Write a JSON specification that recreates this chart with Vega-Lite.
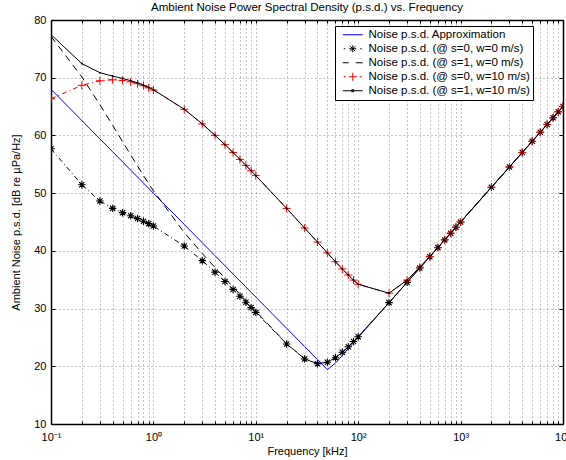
{
  "$schema": "https://vega.github.io/schema/vega-lite/v6.json",
  "width": 512,
  "height": 404,
  "autosize": {"type": "none"},
  "padding": {"left": 51, "top": 20, "right": 3, "bottom": 36},
  "background": "white",
  "title": {"text": "Ambient Noise Power Spectral Density (p.s.d.) vs. Frequency", "fontSize": 11.5, "fontWeight": "normal", "font": "Liberation Sans", "color": "#000", "anchor": "middle", "offset": 1},
  "config": {
    "font": "Liberation Sans",
    "view": {"stroke": "#000", "strokeWidth": 1},
    "axis": {"labelFont": "Liberation Sans", "titleFont": "Liberation Sans", "labelFontSize": 11, "titleFontSize": 11, "titleFontWeight": "normal", "labelColor": "#000", "titleColor": "#000", "tickColor": "#000", "domainColor": "#000", "domainWidth": 1.5, "gridColor": "#000", "gridOpacity": 0.45, "gridDash": [1, 3], "gridWidth": 1}
  },
  "datasets": {
    "approx": [
      {"f":0.1,"db":68},{"f":0.2,"db":62.58},{"f":0.3,"db":59.41},{"f":0.4,"db":57.16},{"f":0.5,"db":55.42},{"f":0.6,"db":53.99},{"f":0.7,"db":52.79},{"f":0.8,"db":51.74},{"f":0.9,"db":50.82},
      {"f":1,"db":50},{"f":2,"db":44.58},{"f":3,"db":41.41},{"f":4,"db":39.16},{"f":5,"db":37.42},{"f":6,"db":35.99},{"f":7,"db":34.79},{"f":8,"db":33.74},{"f":9,"db":32.82},
      {"f":10,"db":32},{"f":20,"db":26.58},{"f":30,"db":23.41},{"f":40,"db":21.16},{"f":50,"db":19.42},{"f":60,"db":20.56},{"f":70,"db":21.9},{"f":80,"db":23.06},{"f":90,"db":24.09},
      {"f":100,"db":25},{"f":200,"db":31.02},{"f":300,"db":34.54},{"f":400,"db":37.04},{"f":500,"db":38.98},{"f":600,"db":40.56},{"f":700,"db":41.9},{"f":800,"db":43.06},{"f":900,"db":44.09},
      {"f":1000,"db":45},{"f":2000,"db":51.02},{"f":3000,"db":54.54},{"f":4000,"db":57.04},{"f":5000,"db":58.98},{"f":6000,"db":60.56},{"f":7000,"db":61.9},{"f":8000,"db":63.06},{"f":9000,"db":64.09},{"f":10000,"db":65}
    ],
    "s0w0": [
      {"f":0.1,"db":57.68},{"f":0.2,"db":51.46},{"f":0.3,"db":48.64},{"f":0.4,"db":47.36},{"f":0.5,"db":46.62},{"f":0.6,"db":46.07},{"f":0.7,"db":45.59},{"f":0.8,"db":45.14},{"f":0.9,"db":44.71},
      {"f":1,"db":44.3},{"f":2,"db":40.85},{"f":3,"db":38.3},{"f":4,"db":36.31},{"f":5,"db":34.69},{"f":6,"db":33.32},{"f":7,"db":32.14},{"f":8,"db":31.1},{"f":9,"db":30.17},
      {"f":10,"db":29.34},{"f":20,"db":23.87},{"f":30,"db":21.27},{"f":40,"db":20.44},{"f":50,"db":20.71},{"f":60,"db":21.49},{"f":70,"db":22.43},{"f":80,"db":23.38},{"f":90,"db":24.29},
      {"f":100,"db":25.13},{"f":200,"db":31.03},{"f":300,"db":34.54},{"f":400,"db":37.04},{"f":500,"db":38.98},{"f":600,"db":40.56},{"f":700,"db":41.9},{"f":800,"db":43.06},{"f":900,"db":44.09},
      {"f":1000,"db":45},{"f":2000,"db":51.02},{"f":3000,"db":54.54},{"f":4000,"db":57.04},{"f":5000,"db":58.98},{"f":6000,"db":60.56},{"f":7000,"db":61.9},{"f":8000,"db":63.06},{"f":9000,"db":64.09},{"f":10000,"db":65}
    ],
    "s1w0": [
      {"f":0.1,"db":77.17},{"f":0.2,"db":70.14},{"f":0.3,"db":65.34},{"f":0.4,"db":61.76},{"f":0.5,"db":58.93},{"f":0.6,"db":56.63},{"f":0.7,"db":54.7},{"f":0.8,"db":53.06},{"f":0.9,"db":51.64},
      {"f":1,"db":50.41},{"f":2,"db":43.17},{"f":3,"db":39.54},{"f":4,"db":37.1},{"f":5,"db":35.25},{"f":6,"db":33.74},{"f":7,"db":32.47},{"f":8,"db":31.37},{"f":9,"db":30.4},
      {"f":10,"db":29.53},{"f":20,"db":23.93},{"f":30,"db":21.3},{"f":40,"db":20.45},{"f":50,"db":20.72},{"f":60,"db":21.49},{"f":70,"db":22.43},{"f":80,"db":23.38},{"f":90,"db":24.29},
      {"f":100,"db":25.13},{"f":200,"db":31.03},{"f":300,"db":34.54},{"f":400,"db":37.04},{"f":500,"db":38.98},{"f":600,"db":40.56},{"f":700,"db":41.9},{"f":800,"db":43.06},{"f":900,"db":44.09},
      {"f":1000,"db":45},{"f":2000,"db":51.02},{"f":3000,"db":54.54},{"f":4000,"db":57.04},{"f":5000,"db":58.98},{"f":6000,"db":60.56},{"f":7000,"db":61.9},{"f":8000,"db":63.06},{"f":9000,"db":64.09},{"f":10000,"db":65}
    ],
    "s0w10": [
      {"f":0.1,"db":66.37},{"f":0.2,"db":68.68},{"f":0.3,"db":69.47},{"f":0.4,"db":69.64},{"f":0.5,"db":69.53},{"f":0.6,"db":69.28},{"f":0.7,"db":68.96},{"f":0.8,"db":68.61},{"f":0.9,"db":68.25},
      {"f":1,"db":67.87},{"f":2,"db":64.53},{"f":3,"db":62},{"f":4,"db":60.02},{"f":5,"db":58.4},{"f":6,"db":57.03},{"f":7,"db":55.85},{"f":8,"db":54.81},{"f":9,"db":53.88},
      {"f":10,"db":53.04},{"f":20,"db":47.35},{"f":30,"db":43.95},{"f":40,"db":41.52},{"f":50,"db":39.64},{"f":60,"db":38.12},{"f":70,"db":36.86},{"f":80,"db":35.81},{"f":90,"db":34.93},
      {"f":100,"db":34.21},{"f":200,"db":32.67},{"f":300,"db":34.92},{"f":400,"db":37.17},{"f":500,"db":39.03},{"f":600,"db":40.59},{"f":700,"db":41.92},{"f":800,"db":43.07},{"f":900,"db":44.09},
      {"f":1000,"db":45},{"f":2000,"db":51.02},{"f":3000,"db":54.54},{"f":4000,"db":57.04},{"f":5000,"db":58.98},{"f":6000,"db":60.56},{"f":7000,"db":61.9},{"f":8000,"db":63.06},{"f":9000,"db":64.09},{"f":10000,"db":65}
    ],
    "s1w10": [
      {"f":0.1,"db":77.47},{"f":0.2,"db":72.45},{"f":0.3,"db":70.87},{"f":0.4,"db":70.28},{"f":0.5,"db":69.87},{"f":0.6,"db":69.49},{"f":0.7,"db":69.11},{"f":0.8,"db":68.71},{"f":0.9,"db":68.32},
      {"f":1,"db":67.93},{"f":2,"db":64.54},{"f":3,"db":62.01},{"f":4,"db":60.02},{"f":5,"db":58.4},{"f":6,"db":57.04},{"f":7,"db":55.85},{"f":8,"db":54.81},{"f":9,"db":53.88},
      {"f":10,"db":53.04},{"f":20,"db":47.35},{"f":30,"db":43.95},{"f":40,"db":41.52},{"f":50,"db":39.64},{"f":60,"db":38.12},{"f":70,"db":36.86},{"f":80,"db":35.81},{"f":90,"db":34.93},
      {"f":100,"db":34.21},{"f":200,"db":32.67},{"f":300,"db":34.92},{"f":400,"db":37.17},{"f":500,"db":39.03},{"f":600,"db":40.59},{"f":700,"db":41.92},{"f":800,"db":43.07},{"f":900,"db":44.09},
      {"f":1000,"db":45},{"f":2000,"db":51.02},{"f":3000,"db":54.54},{"f":4000,"db":57.04},{"f":5000,"db":58.98},{"f":6000,"db":60.56},{"f":7000,"db":61.9},{"f":8000,"db":63.06},{"f":9000,"db":64.09},{"f":10000,"db":65}
    ]
  },
  "resolve": {"axis": {"x": "independent", "y": "independent"}},
  "encoding": {
    "x": {"field": "f", "type": "quantitative", "scale": {"type": "log", "domain": [0.1, 10000], "nice": false}, "axis": null},
    "y": {"field": "db", "type": "quantitative", "scale": {"domain": [10, 80], "nice": false, "zero": false}, "axis": null}
  },
  "layer": [
    {
      "data": {"name": "approx"},
      "mark": {"type": "line", "strokeWidth": 1, "clip": true},
      "encoding": {
        "x": {"field": "f", "type": "quantitative", "scale": {"type": "log", "domain": [0.1, 10000], "nice": false},
          "axis": {"orient": "bottom", "values": [0.1,0.2,0.3,0.4,0.5,0.6,0.7,0.8,0.9,1,2,3,4,5,6,7,8,9,10,20,30,40,50,60,70,80,90,100,200,300,400,500,600,700,800,900,1000,2000,3000,4000,5000,6000,7000,8000,9000,10000],
            "labelExpr": "datum.value == 0.1 ? '10⁻¹' : datum.value == 1 ? '10⁰' : datum.value == 10 ? '10¹' : datum.value == 100 ? '10²' : datum.value == 1000 ? '10³' : datum.value == 10000 ? '10⁴' : ''",
            "labelOverlap": false, "labelFlush": false, "grid": true, "tickSize": -3, "labelPadding": 10, "title": "Frequency [kHz]", "titlePadding": 3}},
        "y": {"field": "db", "type": "quantitative", "scale": {"domain": [10, 80], "nice": false, "zero": false},
          "axis": {"orient": "left", "values": [10,20,30,40,50,60,70,80], "grid": true, "tickSize": -4, "labelPadding": 9, "title": "Ambient Noise p.s.d. [dB re µPa/Hz]", "titlePadding": 12}},
        "color": {"datum": "Noise p.s.d. Approximation", "type": "nominal",
          "scale": {"domain": ["Noise p.s.d. Approximation", "Noise p.s.d. (@ s=0, w=0 m/s)", "Noise p.s.d. (@ s=1, w=0 m/s)", "Noise p.s.d. (@ s=0, w=10 m/s)", "Noise p.s.d. (@ s=1, w=10 m/s)"],
                    "range": ["#0000ff", "#000000", "#000000", "#ff0000", "#000000"]},
          "legend": {"title": null, "orient": "none", "legendX": 284, "legendY": 6, "fillColor": "#ffffff", "strokeColor": "#000000", "padding": 3,
            "labelFont": "Liberation Sans", "labelFontSize": 11.5, "labelColor": "#000", "labelLimit": 400, "symbolSize": 100, "symbolType": "M-2,0H2", "symbolStrokeWidth": 1, "symbolOffset": 9, "labelOffset": 10, "rowPadding": 1,
            "encode": {"symbols": {"update": {
              "shape": {"signal": "datum.value === 'Noise p.s.d. Approximation' ? 'M-2,0H2' : datum.value === 'Noise p.s.d. (@ s=0, w=0 m/s)' ? 'M-1.8,0H-1.5M1.5,0H1.8M-0.7,0H0.7M0,-0.7V0.7M-0.5,-0.5L0.5,0.5M-0.5,0.5L0.5,-0.5' : datum.value === 'Noise p.s.d. (@ s=1, w=0 m/s)' ? 'M-2,0H-0.8M0.6,0H2' : datum.value === 'Noise p.s.d. (@ s=0, w=10 m/s)' ? 'M-1.8,0H-1.4M1.4,0H1.8M-0.8,0H0.8M0,-0.8V0.8' : 'M-2,0H2M-0.2,-0.2H0.2V0.2H-0.2Z'"},
              "stroke": {"scale": "color", "field": "value"},
              "strokeDash": {"value": []},
              "fill": {"value": "transparent"}
            }}}}}
      }
    },
    {
      "data": {"name": "s0w0"},
      "mark": {"type": "line", "strokeWidth": 1, "strokeDash": [5, 3, 1, 3], "clip": true},
      "encoding": {
        "x": {"field": "f", "type": "quantitative", "scale": {"type": "log", "domain": [0.1, 10000], "nice": false},
          "axis": {"orient": "top", "values": [0.1,0.2,0.3,0.4,0.5,0.6,0.7,0.8,0.9,1,2,3,4,5,6,7,8,9,10,20,30,40,50,60,70,80,90,100,200,300,400,500,600,700,800,900,1000,2000,3000,4000,5000,6000,7000,8000,9000,10000], "labels": false, "grid": false, "tickSize": -3, "title": null}},
        "y": {"field": "db", "type": "quantitative", "scale": {"domain": [10, 80], "nice": false, "zero": false},
          "axis": {"orient": "right", "values": [10,20,30,40,50,60,70,80], "labels": false, "grid": false, "tickSize": -4, "title": null}},
        "color": {"datum": "Noise p.s.d. (@ s=0, w=0 m/s)", "type": "nominal"}
      }
    },
    {
      "data": {"name": "s0w0"},
      "mark": {"type": "point", "shape": "M-1,0H1M0,-1V1M-0.7,-0.7L0.7,0.7M-0.7,0.7L0.7,-0.7", "size": 56, "filled": false, "stroke": "#000", "strokeWidth": 1.1, "opacity": 1, "clip": true}
    },
    {
      "data": {"name": "s1w0"},
      "mark": {"type": "line", "strokeWidth": 1, "strokeDash": [7, 5], "clip": true},
      "encoding": {"color": {"datum": "Noise p.s.d. (@ s=1, w=0 m/s)", "type": "nominal"}}
    },
    {
      "data": {"name": "s0w10"},
      "mark": {"type": "line", "strokeWidth": 1, "strokeDash": [5, 3, 1, 3], "clip": true},
      "encoding": {"color": {"datum": "Noise p.s.d. (@ s=0, w=10 m/s)", "type": "nominal"}}
    },
    {
      "data": {"name": "s0w10"},
      "mark": {"type": "point", "shape": "M-1,0H1M0,-1V1", "size": 64, "filled": false, "stroke": "#ff0000", "strokeWidth": 1, "opacity": 1, "clip": true}
    },
    {
      "data": {"name": "s1w10"},
      "mark": {"type": "line", "strokeWidth": 1, "clip": true},
      "encoding": {"color": {"datum": "Noise p.s.d. (@ s=1, w=10 m/s)", "type": "nominal"}}
    },
    {
      "data": {"name": "s1w10"},
      "mark": {"type": "point", "shape": "circle", "size": 4, "filled": true, "color": "#000", "opacity": 1, "clip": true}
    }
  ]
}
